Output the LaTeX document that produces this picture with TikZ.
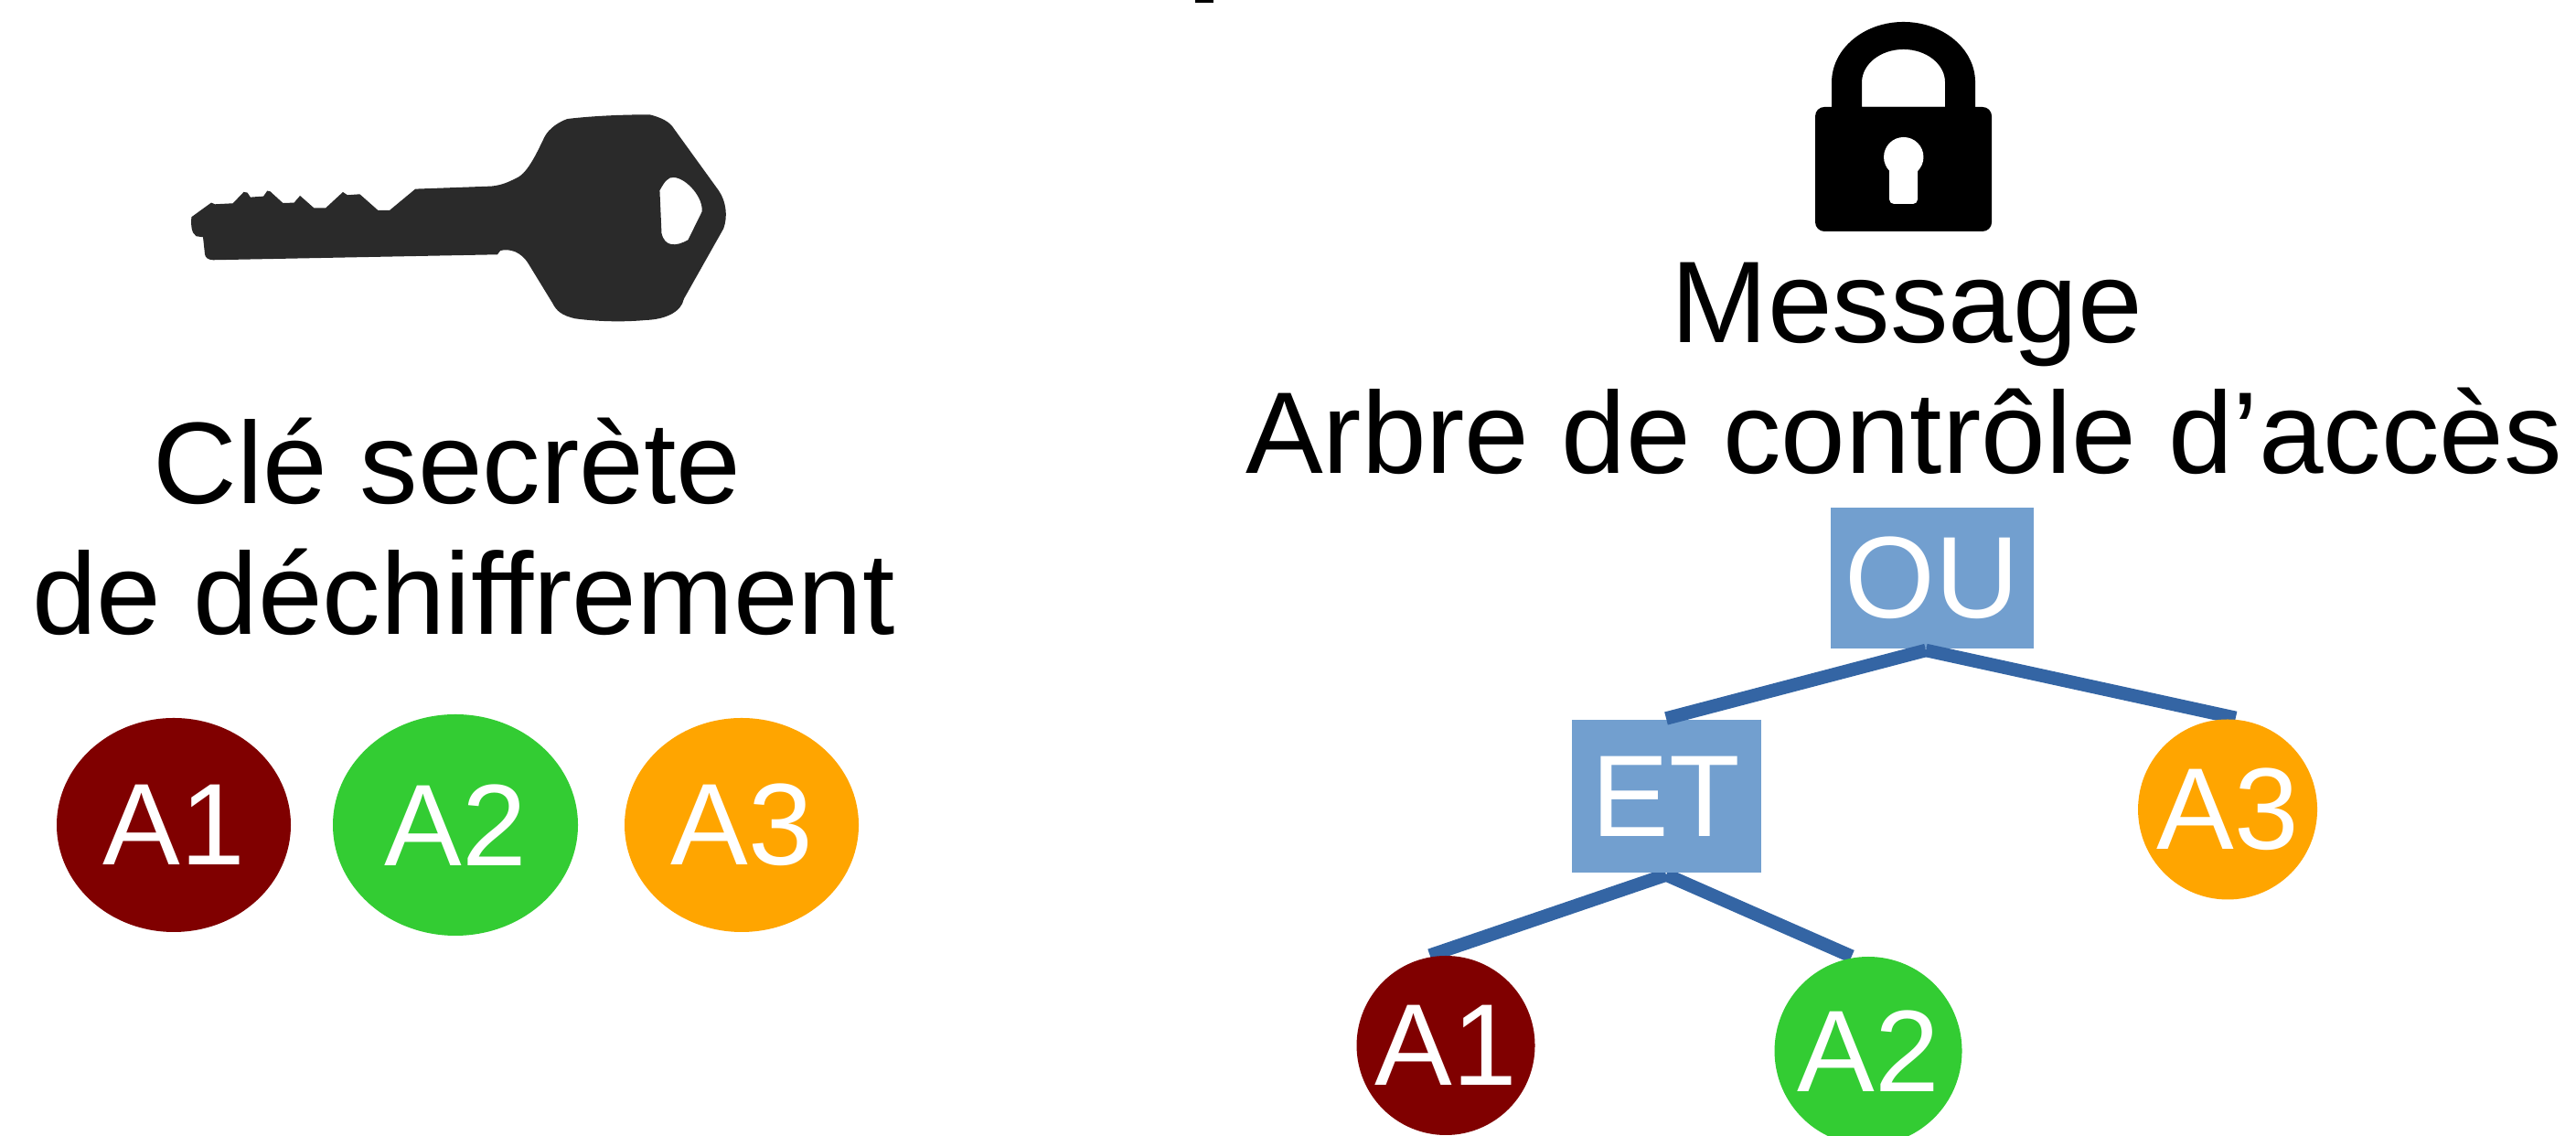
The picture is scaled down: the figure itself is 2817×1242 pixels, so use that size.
\documentclass[tikz,border=0pt]{standalone}
\usepackage{fontspec}
\setmainfont{Liberation Sans}
\usetikzlibrary{shapes.geometric}
\definecolor{gate}{HTML}{729FCF}
\definecolor{link}{HTML}{3465A4}
\definecolor{keygrey}{HTML}{2A2A2A}
\definecolor{attrA}{HTML}{800000}
\definecolor{attrB}{HTML}{33CC33}
\definecolor{attrC}{HTML}{FFA500}
\pgfdeclarelayer{back}
\pgfdeclarelayer{front}
\pgfsetlayers{back,main,front}
\tikzset{
	big text/.style={font=\fontsize{12.7pt}{14pt}\selectfont},
	title/.style={big text, anchor=base, inner sep=0},
	attr/.style={big text, ellipse, text=white, inner sep=0},
	gatebox/.style={big text, rectangle, fill=gate, text=white, inner sep=0},
	edge/.style={draw=link, line width=1.45pt},
}
\begin{document}
\begin{tikzpicture}[x=0.1pt, y=-0.1pt]
	\useasboundingbox (0, 0) rectangle (2817, 1242);
	
	% Mark on the top edge
	\fill (1307, 0) rectangle (1327, 3);
	
	% Key
	\begin{scope}[shift={(180, 100)}, xscale=0.408, yscale=0.3333]
		\fill [keygrey, even odd rule]
		      (72, 412) -- (125, 365) -- (135, 370) -- (183, 367) --
		      (212, 330) -- (222, 332) -- (230, 347) -- (265, 344) --
		      (275, 326) -- (283, 328) -- (317, 366) -- (347, 365) --
		      (363, 342) -- (400, 382) -- (432, 382) -- (478, 330) --
		      (490, 340) -- (523, 337) -- (572, 390) -- (603, 390) --
		      (672, 320) -- (875, 311) ..
		      controls (905, 308) and (925, 295) .. (945, 283) ..
		      controls (975, 265) and (1000, 195) .. (1018, 150) ..
		      controls (1030, 120) and (1060, 98) .. (1080, 90) ..
		      controls (1150, 80) and (1230, 76) .. (1300, 76) ..
		      controls (1330, 85) and (1355, 100) .. (1365, 122) --
		      (1485, 325) ..
		      controls (1505, 360) and (1510, 410) .. (1498, 450) --
		      (1392, 680) ..
		      controls (1385, 725) and (1340, 748) .. (1290, 750) ..
		      controls (1230, 757) and (1160, 755) .. (1100, 745) ..
		      controls (1065, 735) and (1050, 720) .. (1040, 695) --
		      (975, 565) ..
		      controls (955, 525) and (925, 515) .. (900, 522) --
		      (892, 535) -- (130, 553) ..
		      controls (115, 552) and (110, 545) .. (108, 535) --
		      (103, 478) -- (85, 475) ..
		      controls (72, 465) and (70, 440) .. (72, 412) -- cycle
		      (1327, 325) ..
		      controls (1340, 295) and (1350, 280) .. (1365, 282) ..
		      controls (1400, 285) and (1445, 350) .. (1440, 395) --
		      (1403, 487) ..
		      controls (1370, 510) and (1340, 510) .. (1332, 465) -- cycle;
	\end{scope}
	
	% Padlock
	\fill [rounded corners=1pt] (1985, 117) rectangle (2178, 253);
	\fill [even odd rule]
	      (2003, 120) -- (2003, 90) arc [start angle=180, end angle=360, x radius=78.5, y radius=66] -- (2160, 120) -- cycle
	      (2036, 117) -- (2036, 90) arc [start angle=180, end angle=360, x radius=45.5, y radius=36] -- (2127, 117) -- cycle;
	\fill [white] (2081.7, 171.7) circle [radius=2.17pt];
	\fill [white, rounded corners=0.5pt] (2066, 180) rectangle (2097, 223);
	
	% Titles
	\foreach \name/\x/\y/\lab in {
		cleA/489/551/{Clé secrète},
		cleB/507/694/{de déchiffrement},
		msg/2085/375/{Message},
		tree/2082/518/{Arbre de contrôle d’accès}}{
		\node (\name) [title] at (\x, \y) {\lab};
	}
	
	% Attributes of the key
	\foreach \name/\x/\w/\h/\col/\lab in {
		keyA/190/256/234/attrA/A1,
		keyB/498/268/242/attrB/A2,
		keyC/811/256/234/attrC/A3}{
		\node (\name)
		      [ attr
		      , fill=\col
		      , minimum width=\w*0.1pt
		      , minimum height=\h*0.1pt
		      ]
		      at (\x, 902)
		      {\makebox[0pt]{\lab}};
	}
	
	% Gates
	\node (ou) [ gatebox
	           , minimum width=22.2pt
	           , minimum height=15.4pt
	           ]
	           at (2113, 632) {OU};
	\node (et) [ gatebox
	           , minimum width=20.7pt
	           , minimum height=16.7pt
	           ]
	           at (1822, 871) {ET};
	
	% Leaves
	\begin{pgfonlayer}{front}
		\foreach \name/\x/\y/\w/\h/\col/\lab in {
			leafA/1581/1143/195/196/attrA/A1,
			leafB/2043/1149/205/206/attrB/A2,
			leafC/2436/885/196/197/attrC/A3}{
			\node (\name)
			      [ attr
			      , fill=\col
			      , minimum width=\w*0.1pt
			      , minimum height=\h*0.1pt
			      ]
			      at (\x, \y)
			      {\makebox[0pt]{\lab}};
		}
	\end{pgfonlayer}
	
	% Links
	\draw [edge] ([xshift=-0.7pt]ou.south) -- (et.north);
	\draw [edge] ([xshift=-0.7pt]ou.south) -- (leafC.85);
	\begin{pgfonlayer}{back}
		\draw [edge] (et.south) -- (leafA.100);
		\draw [edge] (et.south) -- (leafB.100);
	\end{pgfonlayer}
\end{tikzpicture}
\end{document}
